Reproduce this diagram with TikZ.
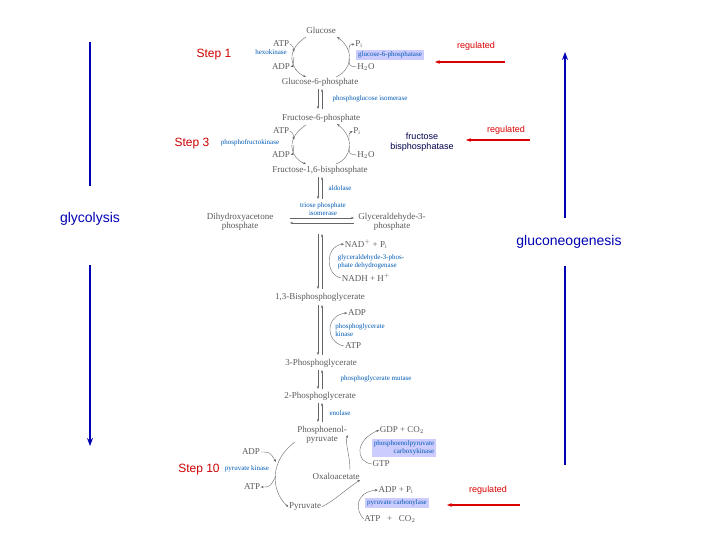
\documentclass[tikz,border=0pt]{standalone}
\usepackage{fontspec}
\setmainfont{Liberation Serif}
\newfontfamily\sansf{Liberation Sans}
\usetikzlibrary{arrows.meta}
\begin{document}
\begin{tikzpicture}[x=1pt,y=-1pt,
 met/.style={font=\fontsize{9}{9.5}\selectfont,text=black!65,inner sep=0.5pt},
 enz/.style={font=\fontsize{7}{7.8}\selectfont,text=blue!50!cyan!70!black,inner sep=0.5pt,align=left},
 box/.style={enz,fill=blue!20,inner sep=2pt},
 stp/.style={font=\sansf\fontsize{12}{12}\selectfont,text=red!80!black},
 big/.style={font=\sansf\fontsize{14}{14}\selectfont,text=blue!70!black},
 reg/.style={font=\sansf\fontsize{9}{10}\selectfont,text=red!85!black},
 ar/.style={-{Stealth[length=3pt]},black!60,thin},
 rar/.style={-{Stealth[length=5pt]},red!85!black,line width=1.6pt},
 bar/.style={blue!70!black,line width=1.3pt}]
\useasboundingbox (0,0) rectangle (720,540);
% metabolites
\node[met] (glc) at (321,30) {Glucose};
\node[met] (atp1) at (281,44) {ATP};
\node[met] (pi1) at (359,44) {P$_{\rm i}$};
\node[enz] (hk) at (271,52) {hexokinase};
\node[box] (g6pase) at (390,55) {glucose-6-phosphatase};
\node[met] (adp1) at (281,67) {ADP};
\node[met] (h2o1) at (366,67) {H$_2$O};
\node[met] (g6p) at (320,82) {Glucose-6-phosphate};
\node[enz] (pgi) at (370,99) {phosphoglucose isomerase};
\node[met] (f6p) at (321,118) {Fructose-6-phosphate};
\node[met] (atp2) at (281,131) {ATP};
\node[met] (pi2) at (357,131) {P$_{\rm i}$};
\node[enz] (pfk) at (250,143) {phosphofructokinase};
\node[met] (adp2) at (281,155) {ADP};
\node[met] (h2o2) at (366,155) {H$_2$O};
\node[met] (f16) at (320,170) {Fructose-1,6-bisphosphate};
\node[enz] (ald) at (340,188) {aldolase};
\node[enz,align=center] (tpi) at (323,209) {triose phosphate\\isomerase};
\node[met,align=center] (dhap) at (240,222) {Dihydroxyacetone\\phosphate};
\node[met,align=center] (gap) at (392,222) {Glyceraldehyde-3-\\phosphate};
\node[met] (nad) at (366,244) {NAD$^+$ + P$_{\rm i}$};
\node[enz] (gapdh) at (371,262) {glyceraldehyde-3-phos-\\phate dehydrogenase};
\node[met] (nadh) at (366,278) {NADH + H$^+$};
\node[met] (bpg) at (320,297) {1,3-Bisphosphoglycerate};
\node[met] (adp3) at (357,313) {ADP};
\node[enz] (pgk) at (360,330) {phosphoglycerate\\kinase};
\node[met] (atp3) at (353,346) {ATP};
\node[met] (pg3) at (321,363) {3-Phosphoglycerate};
\node[enz] (pgm) at (376,379) {phosphoglycerate mutase};
\node[met] (pg2) at (320,396) {2-Phosphoglycerate};
\node[enz] (eno) at (340,413) {enolase};
\node[met,align=center] (pep) at (322,435) {Phosphoenol-\\pyruvate};
\node[met] (gdp) at (402,430) {GDP + CO$_2$};
\node[box,align=right] (pepck) at (404,448) {phosphoenolpyruvate\\carboxykinase};
\node[met] (gtp) at (381,464) {GTP};
\node[met] (oaa) at (336,476) {Oxaloacetate};
\node[met] (adp4) at (251,452) {ADP};
\node[enz] (pk) at (247,469) {pyruvate kinase};
\node[met] (atp4) at (252,487) {ATP};
\node[met] (adp5) at (396,490) {ADP + P$_{\rm i}$};
\node[box] (pc) at (397,503) {pyruvate carbonylase};
\node[met] (pyr) at (305,507) {Pyruvate};
\node[met] (atp5) at (390,519) {ATP \ \ + \ \ CO$_2$};
% arrows
\draw[ar] (306,37) .. controls (285,50) and (290,70) .. (306,77);
\draw[ar] (atp1.east) .. controls (293,46) .. (294,52);
\draw[ar] (294,57) .. controls (293,66) .. (adp1.east);
\draw[ar] (336,77) .. controls (352,70) and (355,50) .. (337,37);
\draw[ar] (349,52) .. controls (349,45) .. (pi1.west);
\draw[black!60,thin] (349,58) .. controls (349,66) .. (h2o1.west);
\draw[ar] (318,89) -- (318,109);
\draw[ar] (322,109) -- (322,89);
\draw[ar] (306,125) .. controls (285,138) and (290,158) .. (306,164);
\draw[ar] (atp2.east) .. controls (293,133) .. (294,140);
\draw[ar] (294,145) .. controls (293,154) .. (adp2.east);
\draw[ar] (336,164) .. controls (352,158) and (355,138) .. (337,124);
\draw[ar] (349,140) .. controls (349,133) .. (pi2.west);
\draw[black!60,thin] (349,146) .. controls (349,154) .. (h2o2.west);
\draw[ar] (318,177) -- (318,199);
\draw[ar] (322,199) -- (322,177);
\draw[ar] (290,218) -- (354,218);
\draw[ar] (354,223) -- (290,223);
\draw[ar] (318,234) -- (318,289);
\draw[ar] (322,289) -- (322,234);
\draw[ar] (nadh.west) .. controls (325,275) and (325,246) .. (nad.west);
\draw[ar] (318,305) -- (318,355);
\draw[ar] (322,355) -- (322,305);
\draw[ar] (atp3.west) .. controls (325,343) and (325,315) .. (adp3.west);
\draw[ar] (318,370) -- (318,389);
\draw[ar] (322,389) -- (322,370);
\draw[ar] (318,403) -- (318,422);
\draw[ar] (322,422) -- (322,403);
\draw[ar] (295,442) .. controls (270,460) and (270,490) .. (pyr.west);
\draw[ar] (adp4.east) .. controls (270,452) .. (276,462);
\draw[ar] (276,476) .. controls (270,487) .. (atp4.east);
\draw[ar] (350,470) .. controls (350,455) and (345,445) .. (pep.east);
\draw[ar] (gtp.west) .. controls (355,462) and (355,440) .. (gdp.west);
\draw[ar] (pyr.east) .. controls (335,500) and (345,490) .. (oaa.south east);
\draw[ar] (atp5.west) .. controls (355,510) and (355,492) .. (adp5.west);
% side labels
\node[stp] at (214,55) {Step 1};
\node[stp] at (192,144) {Step 3};
\node[stp] at (199,470) {Step 10};
\node[big] at (90,219) {glycolysis};
\node[big] at (569,242) {gluconeogenesis};
\draw[bar] (90,42) -- (90,186);
\draw[bar,-{Stealth[length=8pt,width=6pt]}] (90,265) -- (90,446);
\draw[bar] (565,465) -- (565,266);
\draw[bar,-{Stealth[length=8pt,width=6pt]}] (565,218) -- (565,52);
\node[reg] at (476,46) {regulated};
\draw[rar] (505,62) -- (435,62);
\node[reg] at (506,130) {regulated};
\draw[rar] (530,140) -- (466,140);
\node[font=\sansf\fontsize{9}{10}\selectfont,text=blue!30!black,align=center] at (422,142) {fructose\\bisphosphatase};
\node[reg] at (488,490) {regulated};
\draw[rar] (520,505) -- (447,505);
\end{tikzpicture}
\end{document}
